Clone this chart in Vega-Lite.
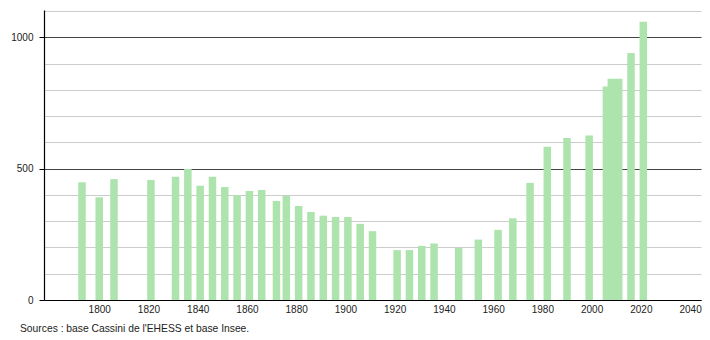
{
  "$schema": "https://vega.github.io/schema/vega-lite/v6.json",
  "width": 657,
  "height": 290,
  "autosize": "none",
  "padding": {"left": 44, "top": 10, "right": 9, "bottom": 40},
  "background": "white",
  "config": {
    "view": {"stroke": null},
    "font": "Liberation Sans"
  },
  "title": {
    "text": "Sources : base Cassini de l'EHESS et base Insee.",
    "orient": "bottom",
    "anchor": "start",
    "frame": "group",
    "dx": -24,
    "offset": 10,
    "fontSize": 10.3,
    "fontWeight": "normal",
    "color": "#222",
    "font": "Liberation Sans"
  },
  "data": {
    "values": [
      {"year": 1793, "pop": 448},
      {"year": 1800, "pop": 391},
      {"year": 1806, "pop": 460},
      {"year": 1821, "pop": 457},
      {"year": 1831, "pop": 469},
      {"year": 1836, "pop": 499},
      {"year": 1841, "pop": 435},
      {"year": 1846, "pop": 469},
      {"year": 1851, "pop": 430},
      {"year": 1856, "pop": 399},
      {"year": 1861, "pop": 415},
      {"year": 1866, "pop": 419},
      {"year": 1872, "pop": 377},
      {"year": 1876, "pop": 397},
      {"year": 1881, "pop": 358},
      {"year": 1886, "pop": 335},
      {"year": 1891, "pop": 321},
      {"year": 1896, "pop": 316},
      {"year": 1901, "pop": 316},
      {"year": 1906, "pop": 290},
      {"year": 1911, "pop": 262},
      {"year": 1921, "pop": 190},
      {"year": 1926, "pop": 190},
      {"year": 1931, "pop": 206},
      {"year": 1936, "pop": 215},
      {"year": 1946, "pop": 198},
      {"year": 1954, "pop": 230},
      {"year": 1962, "pop": 267},
      {"year": 1968, "pop": 311},
      {"year": 1975, "pop": 446},
      {"year": 1982, "pop": 583},
      {"year": 1990, "pop": 617},
      {"year": 1999, "pop": 626},
      {"year": 2006, "pop": 813},
      {"year": 2008, "pop": 842},
      {"year": 2011, "pop": 842},
      {"year": 2016, "pop": 940},
      {"year": 2021, "pop": 1059}
    ]
  },
  "mark": {"type": "bar", "size": 7.5, "color": "#ade3ad"},
  "encoding": {
    "x": {
      "field": "year",
      "type": "quantitative",
      "scale": {"domain": [1779.6, 2042.4], "nice": false, "zero": false},
      "axis": {
        "title": null,
        "values": [1800, 1820, 1840, 1860, 1880, 1900, 1920, 1940, 1960, 1980, 2000, 2020, 2040],
        "format": "d",
        "grid": false,
        "ticks": false,
        "labelPadding": 4,
        "labelFontSize": 10,
        "labelColor": "#222",
        "labelFont": "Liberation Sans",
        "domainColor": "#000",
        "domainWidth": 1.2
      }
    },
    "y": {
      "field": "pop",
      "type": "quantitative",
      "scale": {"domain": [0, 1104], "nice": false},
      "axis": {
        "title": null,
        "values": [0, 100, 200, 300, 400, 500, 600, 700, 800, 900, 1000, 1100],
        "labelExpr": "datum.value % 500 === 0 ? datum.label : ''",
        "format": "d",
        "grid": true,
        "gridColor": {"condition": {"test": "datum.value % 500 === 0", "value": "#444"}, "value": "#cccccc"},
        "gridWidth": {"condition": {"test": "datum.value % 500 === 0", "value": 1.2}, "value": 1},
        "tickOpacity": {"condition": {"test": "datum.value % 500 === 0", "value": 1}, "value": 0},
        "tickColor": "#000",
        "tickSize": 5,
        "labelPadding": 6,
        "labelFontSize": 10,
        "labelColor": "#222",
        "labelFont": "Liberation Sans",
        "domainColor": "#000",
        "domainWidth": 1.2
      }
    }
  }
}
